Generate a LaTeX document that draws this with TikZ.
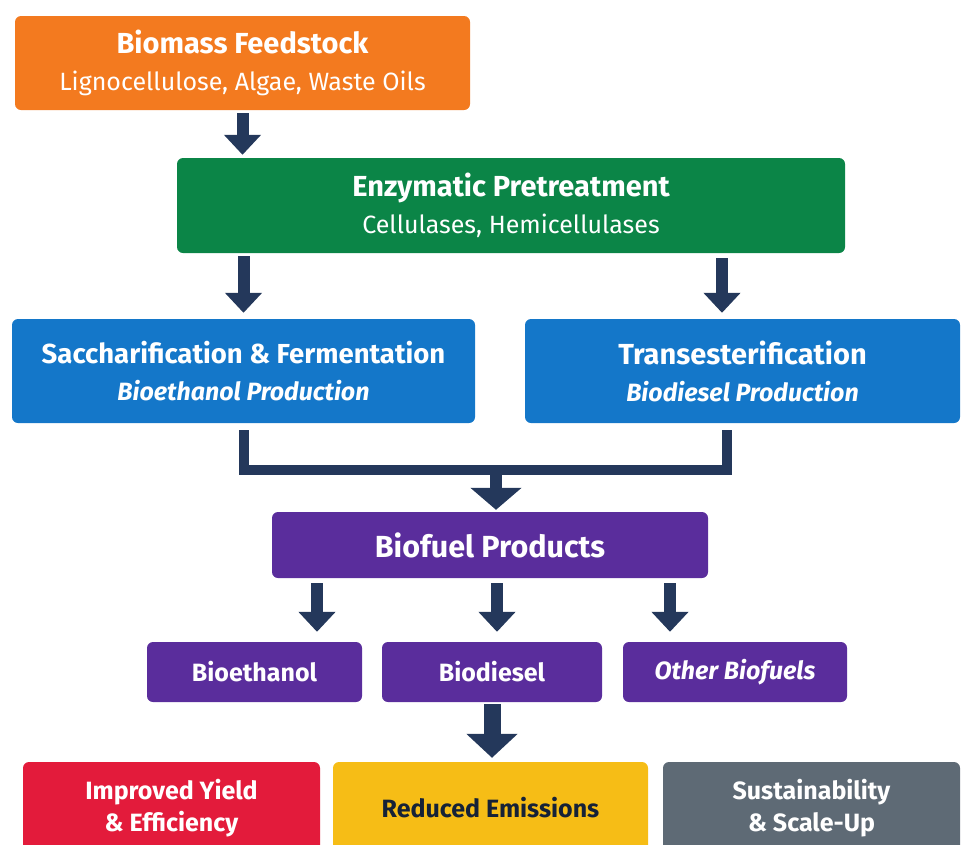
\documentclass[tikz,border=0pt]{standalone}
\usepackage{fontspec}
\setmainfont{Fira Sans}
\usetikzlibrary{arrows.meta}

\definecolor{feedorange}{HTML}{F37A1F}
\definecolor{enzgreen}{HTML}{0B8547}
\definecolor{procblue}{HTML}{1477C9}
\definecolor{prodpurple}{HTML}{5A2D9C}
\definecolor{yieldred}{HTML}{E31B3B}
\definecolor{emisyellow}{HTML}{F6BD16}
\definecolor{scalegray}{HTML}{5E6A75}
\definecolor{arrownavy}{HTML}{24385B}

\newcommand{\bigtitle}[2][29]{{\fontsize{#1}{37}\selectfont\bfseries #2}}

\begin{document}
\begin{tikzpicture}[x=1pt,y=-1pt,
    box/.style={rounded corners=6pt, text=white, align=center, inner sep=0pt,
        font=\fontsize{25}{37}\selectfont},
    small/.style={font=\fontsize{25}{32}\selectfont\bfseries},
    flow/.style={draw=arrownavy, line width=12pt,
        -{Triangle[width=36pt,length=20pt]}},
    bigflow/.style={draw=arrownavy, line width=17pt,
        -{Triangle[width=50pt,length=24pt]}},
    link/.style={draw=arrownavy, line width=10pt}]
    \clip (0,0) rectangle (963,844);

    % stage boxes
    \node[box, fill=feedorange, minimum width=455pt, minimum height=94pt] (feed) at (242.5,63)
        {\bigtitle{Biomass Feedstock}\\ Lignocellulose, Algae, Waste Oils};
    \node[box, fill=enzgreen, minimum width=668pt, minimum height=95pt] (enz) at (511,205.5)
        {\bigtitle{Enzymatic Pretreatment}\\ Cellulases, Hemicellulases};
    \node[box, fill=procblue, minimum width=463pt, minimum height=104pt] (sacc) at (243.5,371)
        {\bigtitle[27.5]{Saccharification \& Fermentation}\\ \bfseries\itshape Bioethanol Production};
    \node[box, fill=procblue, minimum width=435pt, minimum height=104pt] (trans) at (742.5,371)
        {\bigtitle{Transesterification}\\ \bfseries\itshape Biodiesel Production};
    \node[box, fill=prodpurple, minimum width=436pt, minimum height=66pt] (prod) at (490,545)
        {\bigtitle[30.5]{Biofuel Products}};

    % products
    \node[box, small, fill=prodpurple, minimum width=215pt, minimum height=60pt] (eth) at (254.5,672)
        {Bioethanol};
    \node[box, small, fill=prodpurple, minimum width=220pt, minimum height=60pt] (die) at (492,672)
        {Biodiesel};
    \node[box, small, fill=prodpurple, minimum width=224pt, minimum height=60pt] (oth) at (735,672)
        {\itshape Other Biofuels};

    % outcomes
    \node[box, small, fill=yieldred, minimum width=297pt, minimum height=92pt] (yield) at (171.5,808)
        {Improved Yield\\ \& Efficiency};
    \node[box, small, fill=emisyellow, text=arrownavy!60!black, minimum width=315pt, minimum height=92pt] (emis) at (490.5,808)
        {Reduced Emissions};
    \node[box, small, fill=scalegray, minimum width=297pt, minimum height=92pt] (scale) at (811.5,808)
        {Sustainability\\ \& Scale-Up};

    % arrow columns
    \coordinate (rx) at (722,0);
    \coordinate (rs) at (727,0);
    \coordinate (jn) at (496,470);
    \coordinate (p1) at (317,0);
    \coordinate (p2) at (497,0);
    \coordinate (p3) at (670,0);

    \draw[flow, shorten <=3pt, shorten >=3pt] (feed.south) -- (feed.south |- enz.north);
    \draw[flow, shorten <=3pt, shorten >=6pt] (sacc.north |- enz.south) -- (sacc.north);
    \draw[flow, shorten <=5pt, shorten >=6pt] (enz.south -| rx) -- (trans.north -| rx);

    \draw[link, shorten <=7pt] (sacc.south) |- (jn);
    \draw[link, shorten <=7pt] (trans.south -| rs) |- (jn);
    \draw[flow, -{Triangle[width=50pt,length=22pt]}, shorten >=2pt] (jn) -- (prod.north -| jn);

    \draw[flow, shorten <=5pt, shorten >=10pt] (prod.south -| p1) -- (eth.north -| p1);
    \draw[flow, shorten <=5pt, shorten >=10pt] (prod.south -| p2) -- (die.north -| p2);
    \draw[flow, shorten <=5pt, shorten >=10pt] (prod.south -| p3) -- (oth.north -| p3);

    \draw[bigflow, shorten <=2pt, shorten >=4pt] (die.south) -- (emis.north -| die.south);
\end{tikzpicture}
\end{document}
